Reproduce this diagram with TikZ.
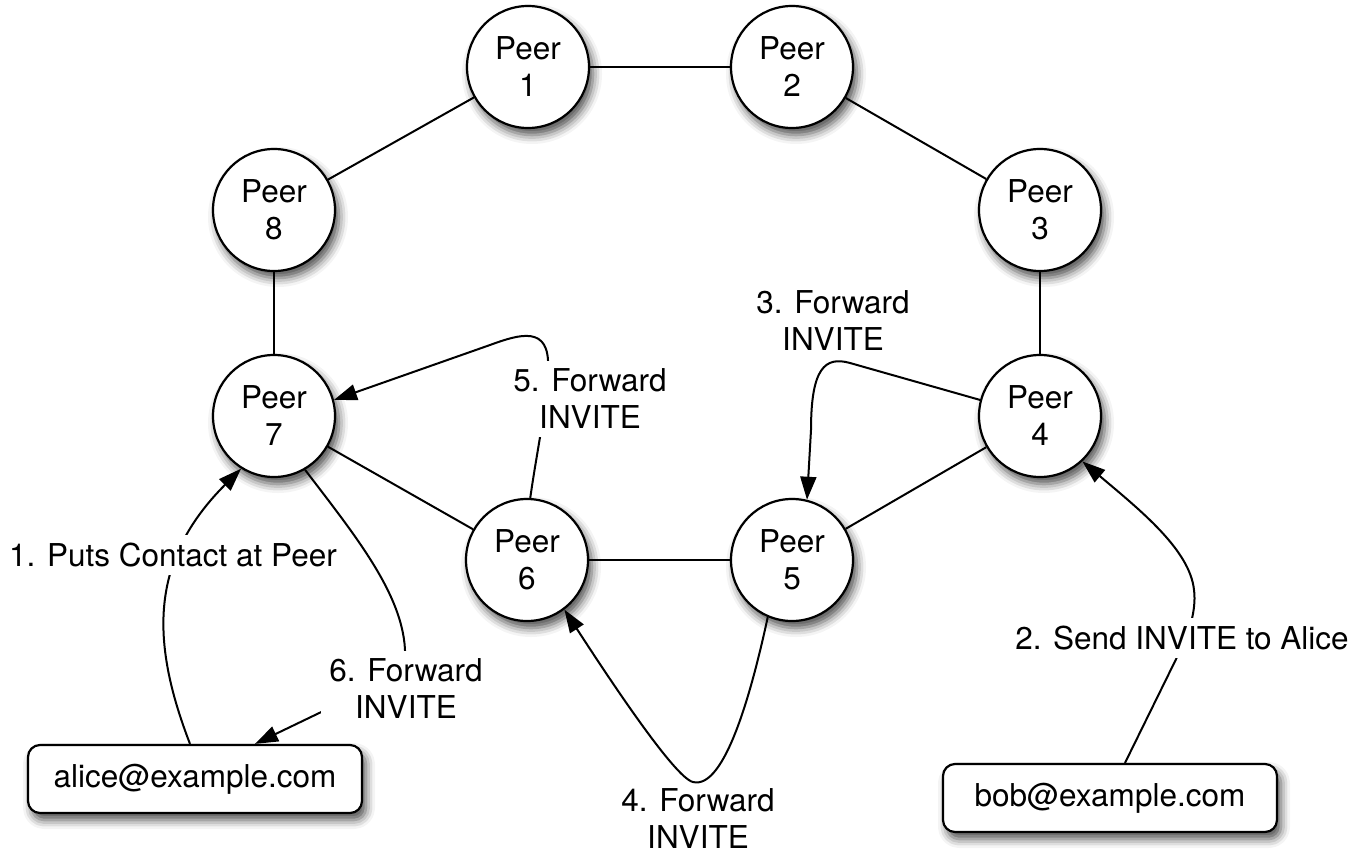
\documentclass[tikz,border=0pt]{standalone}
\usepackage{fontspec}
\setmainfont{TeX Gyre Heros}
\usetikzlibrary{arrows.meta,calc,shadows.blur}
\newcommand{\peerfont}{\fontsize{31.5}{37}\selectfont}
\begin{document}
\begin{tikzpicture}[x=1pt,y=-1pt,
  softshadow/.style={blur shadow={shadow xshift=4pt,shadow yshift=-7pt,shadow blur radius=9pt,shadow opacity=70}},
  peer/.style={circle,draw=black,line width=2.2pt,fill=white,minimum size=122pt,inner sep=0pt,align=center,font=\peerfont,softshadow},
  mailbox/.style={rectangle,rounded corners=12pt,draw=black,line width=2.2pt,fill=white,minimum width=334pt,minimum height=68pt,font=\peerfont,softshadow},
  link/.style={line width=2pt},
  flow/.style={line width=2pt,-{Triangle[length=23pt,width=16pt]}},
  steplabel/.style={fill=white,inner sep=8pt,align=center,font=\peerfont},
  plainlabel/.style={inner sep=0pt,align=center,font=\peerfont}]
\useasboundingbox (0,0) rectangle (1352,856);
% peers
\node[peer] (p1) at (528,67) {Peer\\1};
\node[peer] (p2) at (792,67) {Peer\\2};
\node[peer] (p3) at (1040,210) {Peer\\3};
\node[peer] (p4) at (1040,416) {Peer\\4};
\node[peer] (p5) at (792,560) {Peer\\5};
\node[peer] (p6) at (527,560) {Peer\\6};
\node[peer] (p7) at (274,416) {Peer\\7};
\node[peer] (p8) at (274,210) {Peer\\8};
% mail boxes
\node[mailbox] (alice) at (195,779) {alice@example.com};
\node[mailbox] (bob) at (1110,798) {bob@example.com};
% ring links
\draw[link] (p1) -- (p2);
\draw[link] (p2) -- (p3);
\draw[link] (p3) -- (p4);
\draw[link] (p4) -- (p5);
\draw[link] (p5) -- (p6);
\draw[link] (p6) -- (p7);
\draw[link] (p7) -- (p8);
\draw[link] (p8) -- (p1);
% flows
\draw[flow] ($(alice.north)+(-5,0)$) .. controls (150,640) and (150,560) .. (p7.238);
\draw[flow] ($(bob.north)+(15,0)$) -- (1183,645) .. controls (1192,625) and (1196,605) .. (1194,590) .. controls (1190,550) and (1140,510) .. (p4.-47);
\draw[flow] (p4.165) -- (850,363) .. controls (825,356) and (811,368) .. (811,430) -- (p5.76);
\draw[flow] (p5.247) .. controls (752,690) and (725,790) .. (693,782) .. controls (675,778) and (610,680) .. (p6.-53);
\draw[flow] (p6.87) .. controls (537,450) and (548,400) .. (548,368) .. controls (550,325) and (520,334) .. (490,345) -- (p7.15);
\draw[flow] (p7.-60) .. controls (357,538) and (408,600) .. (405,660) -- (340,703) -- ($(alice.north)+(60,0)$);
% labels
\node[steplabel] (l1) at (173,555) {1. Puts Contact at Peer};
\node[steplabel] (l2) at (1182,638) {2. Send INVITE to Alice};
\node[steplabel] (l3) at (833,321) {3. Forward\\INVITE};
\node[plainlabel] (l4) at (698,819) {4. Forward\\INVITE};
\node[steplabel] (l5) at (590,399) {5. Forward\\INVITE};
\node[steplabel] (l6) at (406,689) {6. Forward\\INVITE};
\end{tikzpicture}
\end{document}
